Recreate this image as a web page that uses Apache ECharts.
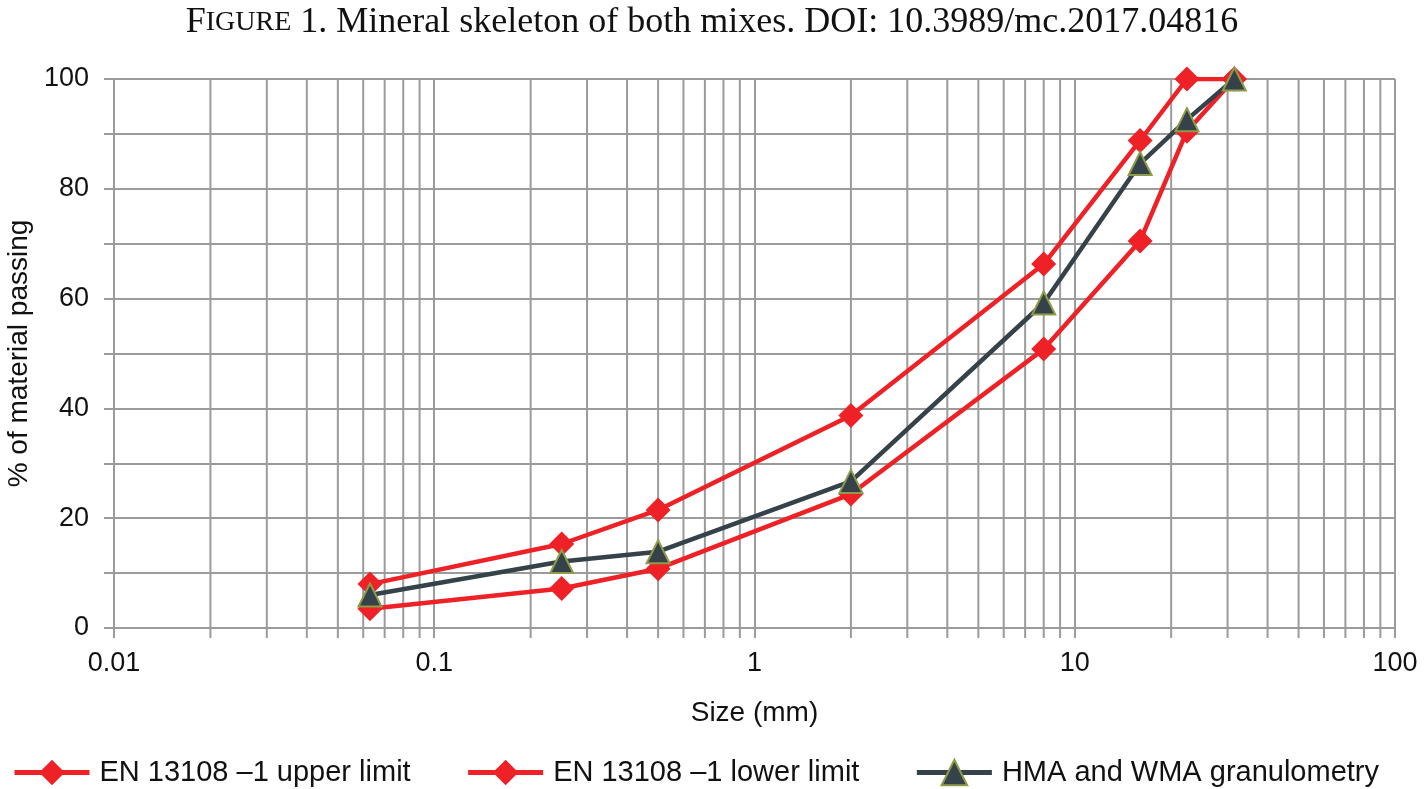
<!DOCTYPE html>
<html>
<head>
<meta charset="utf-8">
<title>Mineral skeleton of both mixes</title>
<script src="https://cdn.jsdelivr.net/npm/echarts@6/dist/echarts.min.js"></script>
<style>
    html, body { margin: 0; padding: 0; background: #fff; }
    #chart { width: 1424px; height: 789px; }
</style>
</head>
<body>
<div id="chart"></div>
<script>
// sieve sizes (mm)
var sizes = [0.063, 0.25, 0.5, 2, 8, 16, 22.4, 31.5];
// % passing
var upperLimit = [8, 15.3, 21.5, 38.7, 66.3, 88.8, 100, 100];
var lowerLimit = [3.5, 7.2, 10.8, 24.4, 50.8, 70.5, 90.5, 100];
var granulometry = [6, 12.1, 13.9, 26.7, 59.2, 84.6, 92.6, 100];
// minor vertical grid lines of the log axis
var minorSizes = [0.02, 0.03, 0.04, 0.05, 0.06, 0.07, 0.08, 0.09,
    0.2, 0.3, 0.4, 0.5, 0.6, 0.7, 0.8, 0.9,
    2, 3, 4, 5, 6, 7, 8, 9,
    20, 30, 40, 50, 60, 70, 80, 90];
var seriesNames = ['EN 13108 \u20131 upper limit', 'EN 13108 \u20131 lower limit', 'HMA and WMA granulometry'];

var gridColor = '#9b9b9b';
var red = '#ee2127';
var dark = '#36424a';

function pairs(ys) {
    var out = [];
    for (var i = 0; i < sizes.length; i++) {
        out.push([sizes[i], ys[i]]);
    }
    return out;
}

var chart = echarts.init(document.getElementById('chart'));

var option = {
    animation: false,
    title: {
        text: '{big|F}{small|IGURE} 1. Mineral skeleton of both mixes. DOI: 10.3989/mc.2017.04816',
        left: 'center',
        top: 0,
        textStyle: {
            rich: {
                big: { fontFamily: 'Liberation Serif', fontSize: 36, color: '#111' },
                small: { fontFamily: 'Liberation Serif', fontSize: 28, color: '#111' }
            },
            fontFamily: 'Liberation Serif',
            fontSize: 36,
            fontWeight: 'normal',
            color: '#111'
        }
    },
    grid: {
        left: 114,
        right: 29,
        top: 79,
        bottom: 161,
        outerBoundsMode: 'none'
    },
    legend: {
        data: seriesNames,
        left: 7,
        bottom: -3,
        itemWidth: 75,
        itemHeight: 32,
        itemGap: 55,
        lineStyle: { width: 5 },
        textStyle: {
            fontFamily: 'Liberation Sans',
            fontSize: 29,
            color: '#111',
            padding: [0, 0, 0, 5]
        }
    },
    xAxis: {
        type: 'log',
        logBase: 10,
        min: 0.01,
        max: 100,
        name: 'Size (mm)',
        nameLocation: 'middle',
        nameGap: 71,
        nameTextStyle: { fontFamily: 'Liberation Sans', fontSize: 28, color: '#111' },
        axisLine: { show: true, lineStyle: { color: gridColor, width: 2 } },
        axisTick: { show: true, length: 10, lineStyle: { color: gridColor, width: 2 } },
        axisLabel: {
            margin: 22,
            fontFamily: 'Liberation Sans',
            fontSize: 27,
            color: '#111'
        },
        splitLine: { show: true, lineStyle: { color: gridColor, width: 2 } }
    },
    yAxis: {
        type: 'value',
        min: 0,
        max: 100,
        interval: 10,
        name: '% of material passing',
        nameLocation: 'middle',
        nameGap: 80,
        nameTextStyle: { fontFamily: 'Liberation Sans', fontSize: 28, color: '#111' },
        axisLine: { show: true, lineStyle: { color: gridColor, width: 2 } },
        axisTick: { show: true, length: 10, lineStyle: { color: gridColor, width: 2 } },
        axisLabel: {
            margin: 25,
            fontFamily: 'Liberation Sans',
            fontSize: 27,
            color: '#111',
            formatter: function (v) {
                return v % 20 === 0 ? String(v) : '';
            }
        },
        splitLine: { show: true, lineStyle: { color: gridColor, width: 2 } }
    },
    series: [
        {
            type: 'custom',
            name: 'minor',
            silent: true,
            z: 1,
            data: minorSizes.map(function (v) { return [v, 0]; }),
            encode: { x: 0, y: 1 },
            renderItem: function (params, api) {
                var top = api.coord([api.value(0), 100]);
                var bottom = api.coord([api.value(0), 0]);
                return {
                    type: 'line',
                    shape: { x1: top[0], y1: top[1], x2: bottom[0], y2: bottom[1] + 10 },
                    style: { stroke: gridColor, lineWidth: 2 }
                };
            }
        },
        {
            type: 'line',
            name: seriesNames[0],
            z: 3,
            data: pairs(upperLimit),
            symbol: 'diamond',
            symbolSize: 25,
            lineStyle: { color: red, width: 4.5 },
            itemStyle: { color: red }
        },
        {
            type: 'line',
            name: seriesNames[1],
            z: 3,
            data: pairs(lowerLimit),
            symbol: 'diamond',
            symbolSize: 25,
            lineStyle: { color: red, width: 4.5 },
            itemStyle: { color: red }
        },
        {
            type: 'line',
            name: seriesNames[2],
            z: 4,
            data: pairs(granulometry),
            symbol: 'triangle',
            symbolSize: 23,
            lineStyle: { color: dark, width: 4.5 },
            itemStyle: { color: dark, borderColor: '#8e9b48', borderWidth: 2 }
        }
    ]
};

chart.setOption(option);
</script>
</body>
</html>
